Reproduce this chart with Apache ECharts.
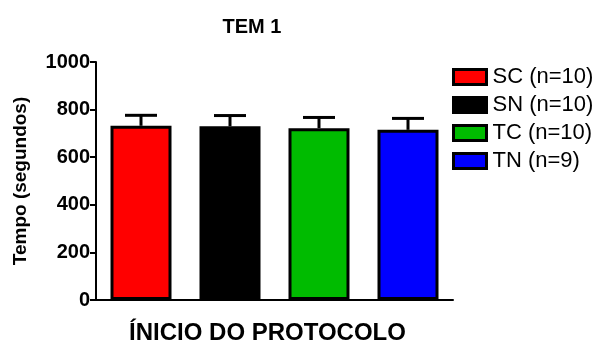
<!DOCTYPE html>
<html>
<head>
<meta charset="utf-8">
<script src="https://cdn.jsdelivr.net/npm/echarts@6/dist/echarts.min.js"></script>
<style>
html,body{margin:0;padding:0;background:#fff;}
#c{width:609px;height:344px;}
</style>
</head>
<body>
<div id="c"></div>
<script>
const categories = ['ÍNICIO DO PROTOCOLO'];
const seriesNames = ['SC (n=10)', 'SN (n=10)', 'TC (n=10)', 'TN (n=9)'];
const seriesColors = ['#ff0000', '#000000', '#00bb00', '#0000ff'];
const means = [732, 730, 722, 715];
const sems = [44, 45, 45, 48];
const yTicks = [0, 200, 400, 600, 800, 1000];

const BAR_W = 61, BAR_GAP = 28;
const FONT = 'Liberation Sans, Arial, sans-serif';

const chart = echarts.init(document.getElementById('c'));

const barSeries = seriesNames.map((name, i) => ({
  name: name,
  type: 'bar',
  data: [means[i]],
  barWidth: BAR_W,
  barGap: (BAR_GAP / BAR_W * 100) + '%',
  itemStyle: { color: seriesColors[i], borderColor: '#000', borderWidth: 3 },
  z: 3
}));

const errData = seriesNames.map((n, i) => [0, means[i], sems[i], i]);

const errSeries = {
  type: 'custom',
  silent: true,
  z: 2,
  data: errData,
  renderItem: function (params, api) {
    const v = api.value(1), e = api.value(2), si = api.value(3);
    const n = seriesNames.length;
    const off = (si - (n - 1) / 2) * (BAR_W + BAR_GAP);
    const base = api.coord([api.value(0), v]);
    const top = api.coord([api.value(0), v + e]);
    const x = base[0] + off;
    const capHalf = 16;
    const st = { stroke: '#000', lineWidth: 3 };
    return {
      type: 'group',
      children: [
        { type: 'line', shape: { x1: x, y1: base[1], x2: x, y2: top[1] }, style: st },
        { type: 'line', shape: { x1: x - capHalf, y1: top[1], x2: x + capHalf, y2: top[1] }, style: st }
      ]
    };
  }
};

chart.setOption({
  animation: false,
  backgroundColor: '#fff',
  textStyle: { fontFamily: FONT },
  title: {
    text: 'TEM 1',
    left: 247, top: 12,
    textAlign: 'center',
    textStyle: { fontFamily: FONT, fontWeight: 'bold', fontSize: 20, color: '#000' }
  },
  legend: {
    orient: 'vertical',
    left: 452, top: 66,
    padding: 0,
    itemWidth: 33, itemHeight: 15, itemGap: 6,
    icon: 'rect',
    data: seriesNames,
    itemStyle: { borderColor: '#000', borderWidth: 3 },
    textStyle: { fontFamily: FONT, fontSize: 22, color: '#000', padding: [0, 0, 0, 1] }
  },
  grid: { left: 96, right: 156, top: 62, bottom: 44, outerBoundsMode: 'none' },
  xAxis: {
    type: 'category',
    data: categories,
    name: categories[0],
    nameLocation: 'middle',
    nameGap: 21,
    nameTextStyle: { fontFamily: FONT, fontWeight: 'bold', fontSize: 24, color: '#000', padding: [0, 14, 0, 0] },
    axisLine: { lineStyle: { color: '#000', width: 2 } },
    axisTick: { alignWithLabel: true, length: 6, lineStyle: { color: '#000', width: 2 } },
    axisLabel: { show: false }
  },
  yAxis: {
    type: 'value',
    min: yTicks[0], max: yTicks[yTicks.length - 1], interval: yTicks[1] - yTicks[0],
    name: 'Tempo (segundos)',
    nameLocation: 'middle',
    nameGap: 66,
    nameTextStyle: { fontFamily: FONT, fontWeight: 'bold', fontSize: 19, color: '#000' },
    axisLine: { show: true, lineStyle: { color: '#000', width: 2 } },
    axisTick: { show: true, length: 6, lineStyle: { color: '#000', width: 2 } },
    axisLabel: { fontFamily: FONT, fontWeight: 'bold', fontSize: 20, color: '#000', margin: 6, formatter: function (v) { return String(v); } },
    splitLine: { show: false }
  },
  series: [errSeries].concat(barSeries)
});
</script>
</body>
</html>
